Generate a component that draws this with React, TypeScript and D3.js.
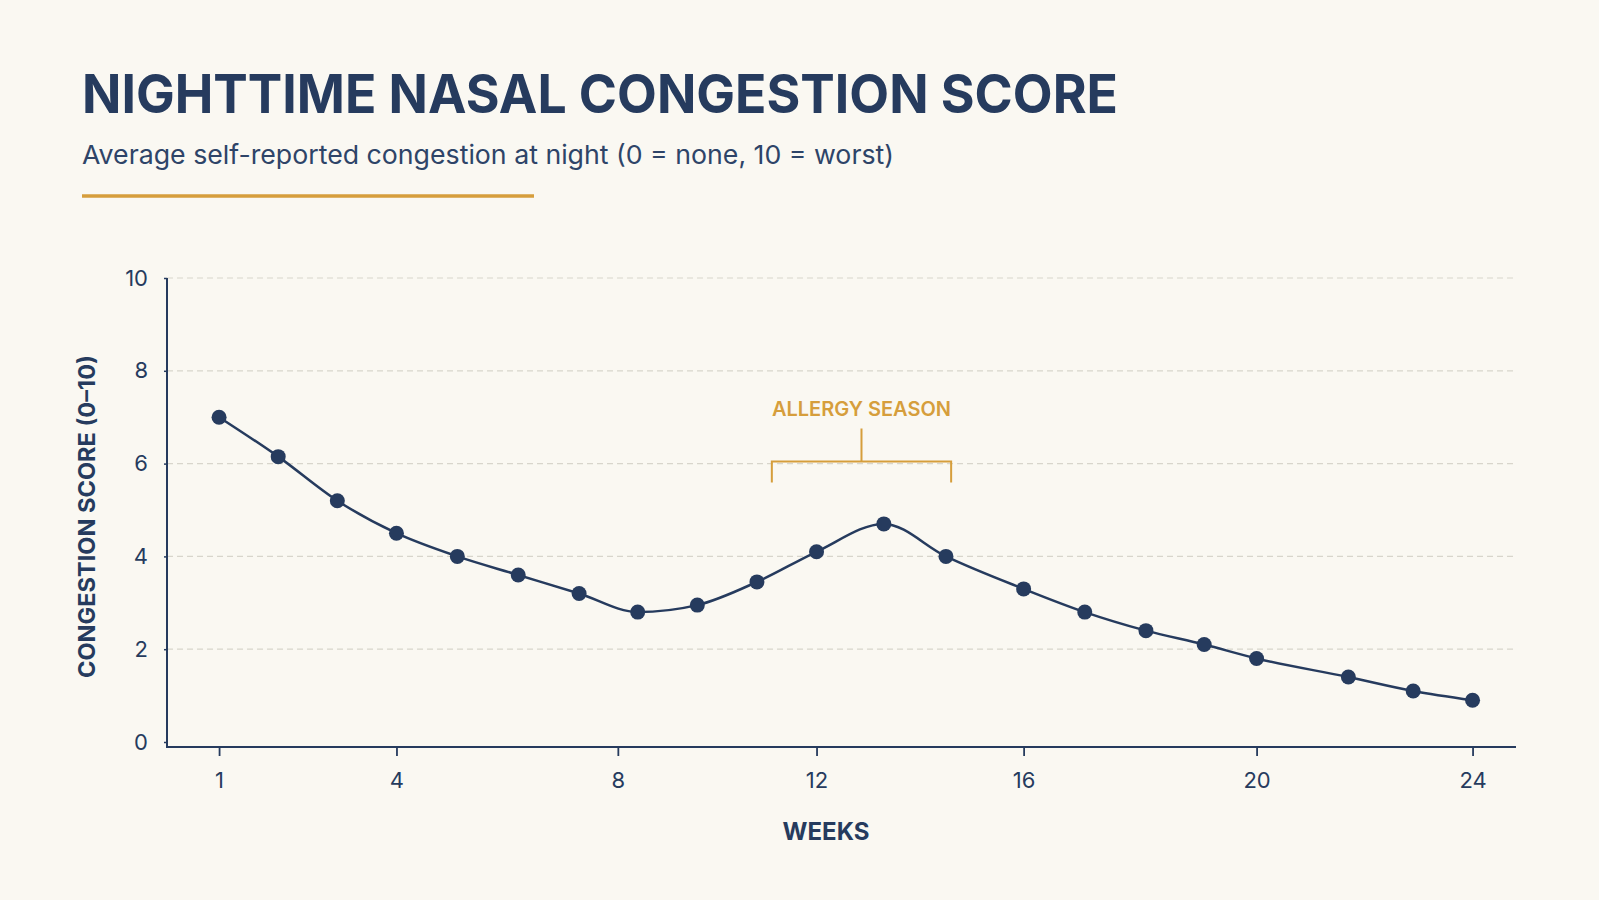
// Nighttime nasal congestion line chart, drawn with D3 into a fixed-size SVG.
import React, { useEffect, useRef } from 'react';
import * as d3 from 'd3';

const weeks = [1, 2, 3, 4, 5.1, 6.2, 7.3, 8.4, 9.6, 10.8, 12, 13.3, 14.5, 16, 17.05, 18.1, 19.1, 20, 21.7, 22.9, 24];
const scores = [7.0, 6.15, 5.2, 4.5, 4.0, 3.6, 3.2, 2.8, 2.95, 3.45, 4.1, 4.7, 4.0, 3.3, 2.8, 2.4, 2.1, 1.8, 1.4, 1.1, 0.9];
const weekTicks = [1, 4, 8, 12, 16, 20, 24];
const scoreTicks = [0, 2, 4, 6, 8, 10];
const allergySeason = [11.1, 14.6];

const TITLE = 'NIGHTTIME NASAL CONGESTION SCORE';
const SUBTITLE = 'Average self-reported congestion at night (0 = none, 10 = worst)';

const W = 1599;
const H = 900;
const PLOT_LEFT = 167;
const PLOT_RIGHT = 1516;
const PLOT_TOP = 278;
const PLOT_BOTTOM = 747;
// the week axis in the original is not evenly spaced; these are where the
// tick weeks sit as a fraction of the plot width
const WEEK_TICK_FRACTIONS = [0.0386, 0.1701, 0.3342, 0.4815, 0.635, 0.8077, 0.9678];

const BG = '#FAF8F2';
const NAVY = '#263B5E';
const GOLD = '#D69E3C';
const GRID = '#D8D5CC';
const FONT = 'Inter, "Noto Sans", sans-serif';

export default function App() {
  const svgRef = useRef<SVGSVGElement | null>(null);

  useEffect(() => {
    document.body.style.margin = '0';
    const svg = d3.select(svgRef.current).attr('width', W).attr('height', H);
    svg.selectAll('*').remove();
    svg.append('rect').attr('width', W).attr('height', H).attr('fill', BG);

    const x = d3
      .scaleLinear()
      .domain(weekTicks)
      .range(WEEK_TICK_FRACTIONS.map((f) => PLOT_LEFT + f * (PLOT_RIGHT - PLOT_LEFT)));
    const y = d3.scaleLinear().domain([0, 10]).range([742, PLOT_TOP]);

    // Header
    svg
      .append('text')
      .attr('x', 82)
      .attr('y', 113)
      .attr('font-family', FONT)
      .attr('font-weight', 700)
      .attr('font-size', 54)
      .attr('fill', NAVY)
      .attr('textLength', 1036)
      .attr('lengthAdjust', 'spacingAndGlyphs')
      .text(TITLE);
    svg
      .append('text')
      .attr('x', 82)
      .attr('y', 164)
      .attr('font-family', FONT)
      .attr('font-size', 26)
      .attr('fill', '#2E4468')
      .attr('textLength', 812)
      .attr('lengthAdjust', 'spacingAndGlyphs')
      .text(SUBTITLE);
    svg
      .append('line')
      .attr('x1', 82)
      .attr('x2', 534)
      .attr('y1', 196)
      .attr('y2', 196)
      .attr('stroke', GOLD)
      .attr('stroke-width', 3.5);

    // Gridlines (skip the baseline)
    svg
      .append('g')
      .selectAll('line')
      .data(scoreTicks.filter((t) => t > 0))
      .enter()
      .append('line')
      .attr('x1', PLOT_LEFT)
      .attr('x2', PLOT_RIGHT)
      .attr('y1', (d) => y(d))
      .attr('y2', (d) => y(d))
      .attr('stroke', GRID)
      .attr('stroke-width', 1.2)
      .style('stroke-dasharray', '6, 4');

    // Y axis
    svg
      .append('line')
      .attr('x1', PLOT_LEFT)
      .attr('x2', PLOT_LEFT)
      .attr('y1', PLOT_TOP)
      .attr('y2', PLOT_BOTTOM)
      .attr('stroke', NAVY)
      .attr('stroke-width', 2);
    const yAxis = svg
      .append('g')
      .attr('transform', `translate(${PLOT_LEFT},0)`)
      .call(d3.axisLeft(y).tickValues(scoreTicks).tickSize(3).tickPadding(16));
    yAxis.select('.domain').remove();
    yAxis.selectAll('line').attr('stroke', NAVY).attr('stroke-width', 1.5);
    yAxis
      .selectAll('text')
      .attr('font-family', FONT)
      .attr('font-size', 22)
      .attr('fill', NAVY);

    // X axis
    svg
      .append('line')
      .attr('x1', PLOT_LEFT - 1)
      .attr('x2', PLOT_RIGHT)
      .attr('y1', PLOT_BOTTOM)
      .attr('y2', PLOT_BOTTOM)
      .attr('stroke', NAVY)
      .attr('stroke-width', 2);
    const xAxis = svg
      .append('g')
      .attr('transform', `translate(0,${PLOT_BOTTOM})`)
      .call(d3.axisBottom(x).tickValues(weekTicks).tickFormat(d3.format('d')).tickSize(9).tickPadding(16));
    xAxis.select('.domain').remove();
    xAxis.selectAll('line').attr('stroke', NAVY).attr('stroke-width', 1.8);
    xAxis
      .selectAll('text')
      .attr('font-family', FONT)
      .attr('font-size', 22)
      .attr('fill', NAVY);

    // Axis titles
    svg
      .append('text')
      .attr('x', 826)
      .attr('y', 840)
      .attr('text-anchor', 'middle')
      .attr('font-family', FONT)
      .attr('font-weight', 700)
      .attr('font-size', 24)
      .attr('fill', NAVY)
      .text('WEEKS');
    svg
      .append('text')
      .attr('transform', `translate(95,${(PLOT_TOP + PLOT_BOTTOM) / 2 + 4}) rotate(-90)`)
      .attr('text-anchor', 'middle')
      .attr('font-family', FONT)
      .attr('font-weight', 700)
      .attr('font-size', 23)
      .attr('fill', NAVY)
      .attr('textLength', 323)
      .attr('lengthAdjust', 'spacingAndGlyphs')
      .text('CONGESTION SCORE (0–10)');

    // Allergy season bracket
    const bx0 = x(allergySeason[0]);
    const bx1 = x(allergySeason[1]);
    const bmid = (bx0 + bx1) / 2;
    const by = y(6) - 2;
    svg
      .append('path')
      .attr('d', `M${bx0},${by + 21}V${by}H${bx1}V${by + 21}M${bmid},${by}V${by - 33}`)
      .attr('fill', 'none')
      .attr('stroke', GOLD)
      .attr('stroke-width', 2);
    svg
      .append('text')
      .attr('x', bmid)
      .attr('y', by - 46)
      .attr('text-anchor', 'middle')
      .attr('font-family', FONT)
      .attr('font-weight', 600)
      .attr('font-size', 20)
      .attr('fill', GOLD)
      .text('ALLERGY SEASON');

    // Series
    const pts = weeks.map((w, i) => ({ week: w, score: scores[i] }));
    const line = d3
      .line<{ week: number; score: number }>()
      .x((d) => x(d.week))
      .y((d) => y(d.score))
      .curve(d3.curveMonotoneX);
    svg
      .append('path')
      .datum(pts)
      .attr('fill', 'none')
      .attr('stroke', NAVY)
      .attr('stroke-width', 2.5)
      .attr('d', line);
    svg
      .append('g')
      .selectAll('circle')
      .data(pts)
      .enter()
      .append('circle')
      .attr('cx', (d) => x(d.week))
      .attr('cy', (d) => y(d.score))
      .attr('r', 7.5)
      .attr('fill', NAVY);
  }, []);

  return <svg ref={svgRef} style={{ display: 'block' }} />;
}
